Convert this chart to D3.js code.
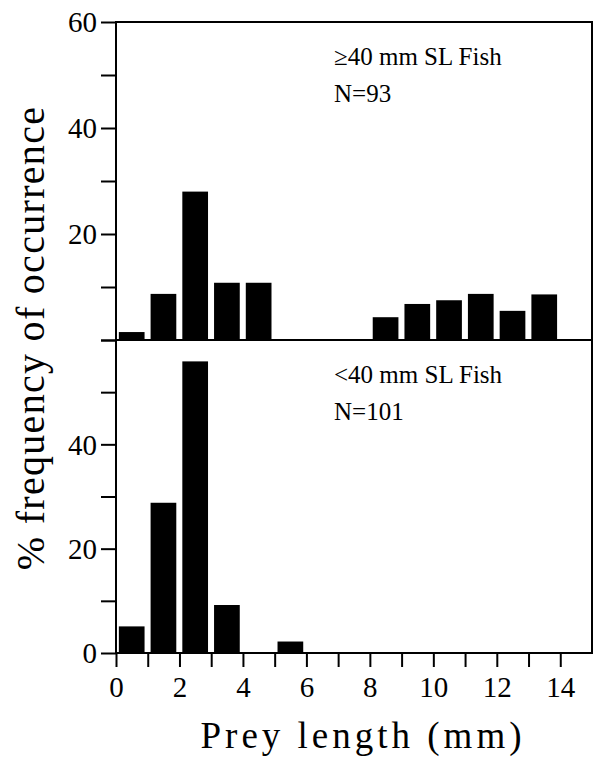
<!DOCTYPE html>
<html>
<head>
<meta charset="utf-8">
<script src="https://cdn.jsdelivr.net/npm/d3@7"></script>
<style>
  body { margin: 0; background: #fff; }
  text { font-family: "Liberation Serif", "Times New Roman", serif; fill: #000; }
</style>
</head>
<body>
<svg class="chart" width="594" height="760"></svg>
<script>
// prey length bins, 1 mm wide, starting at 0
const bins = d3.range(15);

// >=40 mm SL fish, N=93
const bigFish = [1.5, 8.7, 28.0, 10.8, 10.8, 0, 0, 0, 4.3, 6.8, 7.5, 8.7, 5.5, 8.6, 0];
// <40 mm SL fish, N=101
const smallFish = [5.1, 28.8, 55.9, 9.2, 0, 2.2, 0, 0, 0, 0, 0, 0, 0, 0, 0];

const xTicks = [0, 2, 4, 6, 8, 10, 12, 14];
const topYLabels = [20, 40, 60];
const botYLabels = [0, 20, 40];

const svg = d3.select('.chart');

const plotLeft = 116, plotRight = 592, plotTop = 22, plotMid = 340, plotBottom = 653;

const x = d3.scaleLinear().domain([0, 15]).range([plotLeft, plotRight]);
const yTop = d3.scaleLinear().domain([0, 60]).range([plotMid, plotTop]);
const yBot = d3.scaleLinear().domain([0, 60]).range([plotBottom, plotMid]);

function panel(y, values, labels, title, n) {
    const g = svg.append('g');

    g.selectAll('.bar')
        .data(values)
        .enter().append('rect')
        .attr('class', 'bar')
        .attr('x', (d, i) => x(bins[i] + 0.09))
        .attr('width', x(0.81) - x(0))
        .attr('y', d => y(d))
        .attr('height', d => y(0) - y(d))
        .attr('fill', '#000');

    const axis = g.append('g')
        .attr('transform', 'translate(' + plotLeft + ',0)')
        .call(d3.axisLeft(y)
            .tickValues(d3.range(0, 61, 10))
            .tickSize(15)
            .tickFormat(d => labels.includes(d) ? d : ''));
    axis.select('.domain').remove();
    axis.selectAll('line').attr('stroke', '#000').attr('stroke-width', 2);
    axis.selectAll('text')
        .attr('x', -19)
        .attr('dy', '0.34em')
        .style('font-size', '29px');

    g.append('text')
        .attr('x', 334)
        .attr('y', y(60) + 43)
        .style('font-size', '25px')
        .text(title);
    g.append('text')
        .attr('x', 334)
        .attr('y', y(60) + 80)
        .style('font-size', '25px')
        .text(n);
}

panel(yTop, bigFish, topYLabels, '≥40 mm SL Fish', 'N=93');
panel(yBot, smallFish, botYLabels, '<40 mm SL Fish', 'N=101');

// frame
svg.append('rect')
    .attr('x', plotLeft).attr('y', plotTop)
    .attr('width', plotRight - plotLeft).attr('height', plotBottom - plotTop)
    .attr('fill', 'none').attr('stroke', '#000').attr('stroke-width', 2);
svg.append('line')
    .attr('x1', plotLeft).attr('x2', plotRight)
    .attr('y1', plotMid).attr('y2', plotMid)
    .attr('stroke', '#000').attr('stroke-width', 2);

const xAxis = svg.append('g')
    .attr('transform', 'translate(0,' + plotBottom + ')')
    .call(d3.axisBottom(x)
        .tickValues(d3.range(0, 15))
        .tickSize(14)
        .tickFormat(d => xTicks.includes(d) ? d : ''));
xAxis.select('.domain').remove();
xAxis.selectAll('line').attr('stroke', '#000').attr('stroke-width', 2);
xAxis.selectAll('text')
    .attr('y', 44)
    .attr('dy', 0)
    .style('font-size', '29px');

svg.append('text')
    .attr('x', 363)
    .attr('y', 748)
    .attr('text-anchor', 'middle')
    .style('font-size', '37px')
    .style('letter-spacing', '4px')
    .text('Prey length (mm)');

svg.append('text')
    .attr('transform', 'translate(44,338) rotate(-90)')
    .attr('text-anchor', 'middle')
    .style('font-size', '40px')
    .style('letter-spacing', '1.3px')
    .text('% frequency of occurrence');
</script>
</body>
</html>
